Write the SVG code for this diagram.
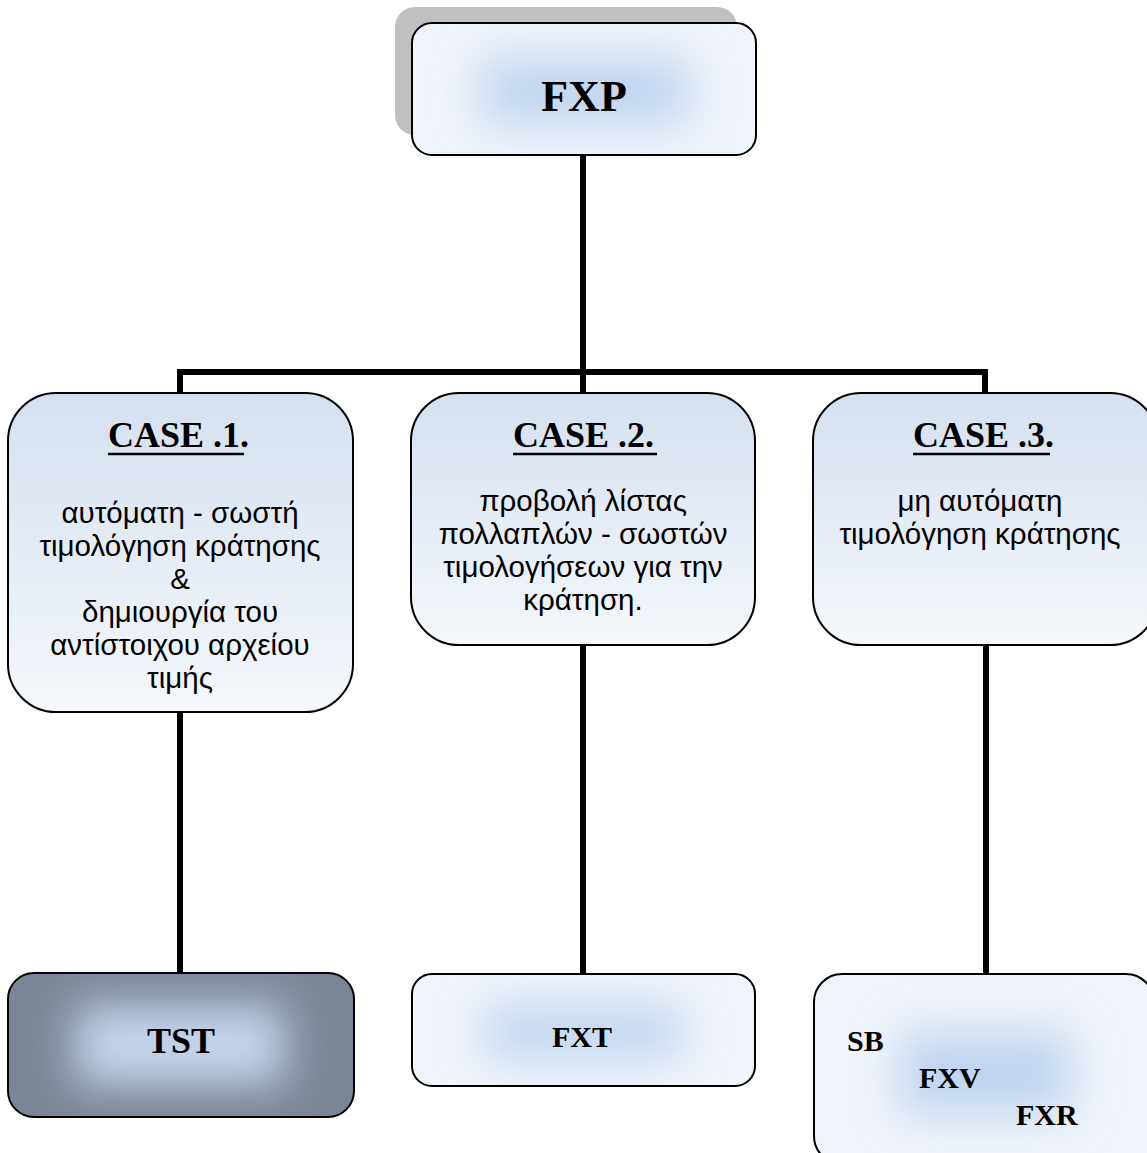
<svg xmlns="http://www.w3.org/2000/svg" width="1147" height="1153" viewBox="0 0 1147 1153">
<style>
.box{stroke:#000;stroke-width:2}
.conn{stroke:#000;stroke-width:6;fill:none;stroke-linecap:square}
.title{font-family:"Liberation Serif","Times New Roman",serif;font-weight:bold;fill:#000}
.body{font-family:"Liberation Sans",Arial,sans-serif;font-size:29.5px;fill:#000;text-anchor:middle}
.ul{stroke:#000;stroke-width:2.5}
.glow{fill:#c0d4ee;filter:url(#soft)}
.glowDark{fill:#c6d6ec;filter:url(#soft)}
</style>
<defs>
<linearGradient id="caseGrad" x1="0" y1="0" x2="0" y2="1">
<stop offset="0" stop-color="#d5e0ef"/>
<stop offset="1" stop-color="#f5f8fc"/>
</linearGradient>
<filter id="soft" x="-100%" y="-100%" width="300%" height="300%">
<feGaussianBlur stdDeviation="22"/>
</filter>
<clipPath id="cFxp"><rect x="412" y="23" width="344" height="132" rx="20"/></clipPath>
<clipPath id="cTst"><rect x="8" y="973" width="346" height="144" rx="26"/></clipPath>
<clipPath id="cFxt"><rect x="412" y="974" width="343" height="112" rx="20"/></clipPath>
<clipPath id="cSb"><rect x="814" y="974" width="340" height="190" rx="28"/></clipPath>
</defs>

<g id="connectors">
<line class="conn" x1="583" y1="156" x2="583" y2="372"/>
<line class="conn" x1="180" y1="372" x2="985" y2="372"/>
<line class="conn" x1="180" y1="372" x2="180" y2="392"/>
<line class="conn" x1="583" y1="372" x2="583" y2="392"/>
<line class="conn" x1="985" y1="372" x2="985" y2="392"/>
<line class="conn" x1="180" y1="712" x2="180" y2="973"/>
<line class="conn" x1="583" y1="645" x2="583" y2="974"/>
<line class="conn" x1="986" y1="645" x2="986" y2="974"/>
</g>

<g id="fxp">
<rect x="395" y="7" width="342" height="128" rx="20" fill="#c0c0c0"/>
<rect x="412" y="23" width="344" height="132" rx="20" fill="#f0f4fb"/>
<g clip-path="url(#cFxp)"><rect class="glow" x="482" y="58" width="206" height="66"/></g>
<rect class="box" x="412" y="23" width="344" height="132" rx="20" fill="none"/>
<text class="title" x="584" y="111" font-size="44" text-anchor="middle">FXP</text>
</g>

<g id="case1">
<rect class="box" x="8" y="393" width="345" height="319" rx="48" fill="url(#caseGrad)"/>
<text class="title" x="108" y="447" font-size="36">CASE .1.</text>
<line class="ul" x1="108" y1="454" x2="244" y2="454"/>
<text class="body" x="180" y="523">αυτόματη - σωστή</text>
<text class="body" x="180" y="556">τιμολόγηση κράτησης</text>
<text class="body" x="180" y="589">&amp;</text>
<text class="body" x="180" y="622">δημιουργία του</text>
<text class="body" x="180" y="655">αντίστοιχου αρχείου</text>
<text class="body" x="180" y="688">τιμής</text>
</g>

<g id="case2">
<rect class="box" x="411" y="393" width="344" height="252" rx="48" fill="url(#caseGrad)"/>
<text class="title" x="513" y="447" font-size="36">CASE .2.</text>
<line class="ul" x1="513" y1="454" x2="657" y2="454"/>
<text class="body" x="583" y="511">προβολή λίστας</text>
<text class="body" x="583" y="544">πολλαπλών - σωστών</text>
<text class="body" x="583" y="577">τιμολογήσεων για την</text>
<text class="body" x="583" y="610">κράτηση.</text>
</g>

<g id="case3">
<rect class="box" x="813" y="393" width="345" height="252" rx="48" fill="url(#caseGrad)"/>
<text class="title" x="913" y="447" font-size="36">CASE .3.</text>
<line class="ul" x1="913" y1="454" x2="1050" y2="454"/>
<text class="body" x="980" y="511">μη αυτόματη</text>
<text class="body" x="980" y="544">τιμολόγηση κράτησης</text>
</g>

<g id="tst">
<rect x="8" y="973" width="346" height="144" rx="26" fill="#7a8595"/>
<g clip-path="url(#cTst)"><rect class="glowDark" x="75" y="1005" width="210" height="80"/></g>
<rect class="box" x="8" y="973" width="346" height="144" rx="26" fill="none"/>
<text class="title" x="181" y="1053" font-size="36" text-anchor="middle">TST</text>
</g>

<g id="fxt">
<rect x="412" y="974" width="343" height="112" rx="20" fill="#f0f4fb"/>
<g clip-path="url(#cFxt)"><rect class="glow" x="485" y="1006" width="195" height="52"/></g>
<rect class="box" x="412" y="974" width="343" height="112" rx="20" fill="none"/>
<text class="title" x="582" y="1047" font-size="30" text-anchor="middle">FXT</text>
</g>

<g id="sbfx">
<rect x="814" y="974" width="340" height="190" rx="28" fill="#f0f4fb"/>
<g clip-path="url(#cSb)"><rect class="glow" x="900" y="1032" width="170" height="82"/></g>
<rect class="box" x="814" y="974" width="340" height="190" rx="28" fill="none"/>
<text class="title" x="847" y="1051" font-size="30">SB</text>
<text class="title" x="919" y="1088" font-size="30">FXV</text>
<text class="title" x="1016" y="1125" font-size="30">FXR</text>
</g>
</svg>
